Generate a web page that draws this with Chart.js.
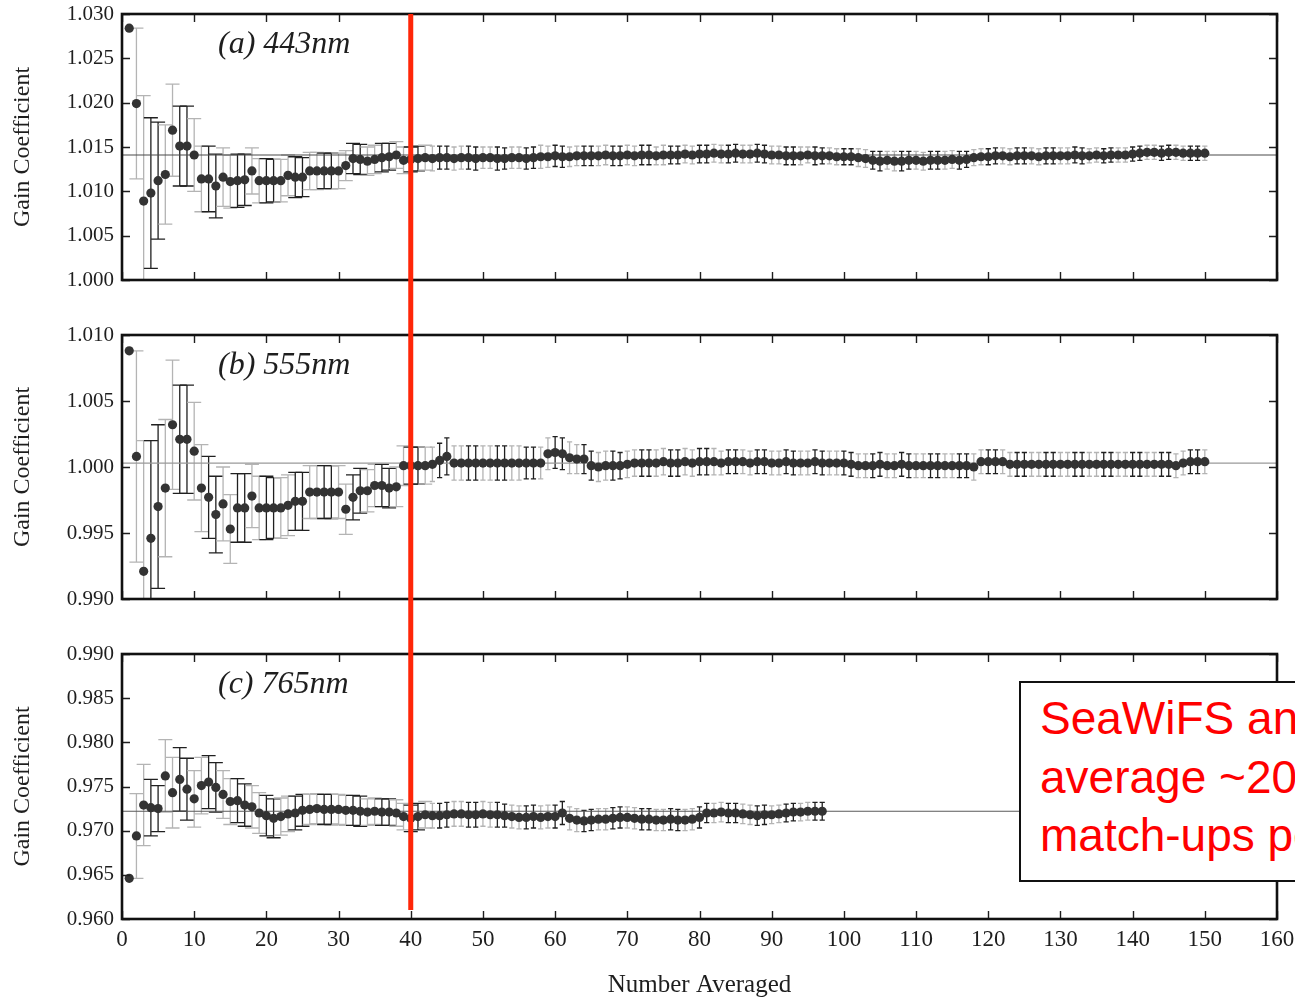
<!DOCTYPE html>
<html>
<head>
<meta charset="utf-8">
<script src="https://cdn.jsdelivr.net/npm/chart.js@4/dist/chart.umd.min.js"></script>
<style>
html, body { margin:0; padding:0; background:#fff; overflow:hidden; }
#wrap { position:relative; width:1295px; height:998px; overflow:hidden; background:#fff; }
#wrap canvas { position:absolute; left:0; }
#note { position:absolute; left:1019px; top:681px; width:420px; height:201px; box-sizing:border-box;
  border:2px solid #111; background:#fff; color:#ff0000; z-index:5;
  font-family:"Liberation Sans", Arial, sans-serif; font-size:46px; line-height:58.5px;
  padding:6px 0 0 19px; white-space:nowrap; }
</style>
</head>
<body>
<div id="wrap">
  <canvas id="cA" width="1295" height="300" style="top:0px;width:1295px;height:300px"></canvas>
  <canvas id="cB" width="1295" height="320" style="top:300px;width:1295px;height:320px"></canvas>
  <canvas id="cC" width="1295" height="378" style="top:620px;width:1295px;height:378px"></canvas>
  <div id="note">SeaWiFS and MODIS<br>average ~20<br>match-ups per year</div>
</div>
<script>
// ---------------- data ----------------
const xMin = 0, xMax = 160, xStep = 10;
const markerX = 40;

// (a) 443nm : gain coefficient vs number averaged (n = 1..150)
const aGain = [
1.0284,1.0199,1.0089,1.0098,1.0112,1.0119,1.0169,1.0151,1.0151,1.0141,
1.0114,1.0114,1.0106,1.0116,1.0111,1.0112,1.0113,1.0123,1.0112,1.0112,
1.0112,1.0112,1.0118,1.0116,1.0116,1.0123,1.0123,1.0123,1.0123,1.0123,
1.0129,1.0137,1.0136,1.0134,1.0136,1.0138,1.0139,1.0141,1.0135,1.0136,
1.0137,1.0138,1.0137,1.0138,1.0138,1.0137,1.0138,1.0138,1.0137,1.0138,
1.0138,1.0137,1.0137,1.0138,1.0138,1.0137,1.0138,1.0139,1.0139,1.0140,
1.0139,1.0139,1.0140,1.0140,1.0140,1.0140,1.0141,1.0140,1.0140,1.0141,
1.0140,1.0141,1.0141,1.0140,1.0141,1.0141,1.0141,1.0142,1.0141,1.0142,
1.0142,1.0143,1.0142,1.0142,1.0143,1.0142,1.0142,1.0143,1.0142,1.0141,
1.0141,1.0140,1.0140,1.0140,1.0141,1.0140,1.0140,1.0140,1.0139,1.0139,
1.0139,1.0138,1.0137,1.0135,1.0134,1.0135,1.0134,1.0134,1.0135,1.0135,
1.0134,1.0135,1.0135,1.0135,1.0136,1.0135,1.0136,1.0138,1.0139,1.0139,
1.0140,1.0140,1.0139,1.0140,1.0140,1.0140,1.0139,1.0140,1.0140,1.0140,
1.0140,1.0141,1.0140,1.0140,1.0141,1.0140,1.0141,1.0141,1.0141,1.0142,
1.0143,1.0144,1.0144,1.0143,1.0144,1.0144,1.0143,1.0143,1.0143,1.0143];
const aErr = [
0,0.0085,0.0119,0.0085,0.0066,0.0056,0.0052,0.0045,0.0045,0.0041,
0.0037,0.0037,0.0036,0.0033,0.0030,0.0030,0.0029,0.0026,0.0025,0.0025,
0.0024,0.0024,0.0023,0.0023,0.0022,0.0021,0.0021,0.0020,0.0020,0.0020,
0.0017,0.0017,0.0017,0.0016,0.0016,0.0016,0.0015,0.0015,0.0015,0.0014,
0.0014,0.0014,0.0014,0.0013,0.0013,0.0013,0.0013,0.0013,0.0013,0.0012,
0.0012,0.0013,0.0012,0.0012,0.0012,0.0012,0.0012,0.0013,0.0012,0.0012,
0.0012,0.0011,0.0011,0.0011,0.0011,0.0011,0.0011,0.0011,0.0011,0.0011,
0.0011,0.0011,0.0011,0.0010,0.0011,0.0010,0.0010,0.0010,0.0010,0.0010,
0.0010,0.0010,0.0010,0.0010,0.0010,0.0010,0.0010,0.0010,0.0010,0.0010,
0.0010,0.0010,0.0010,0.0010,0.0009,0.0010,0.0009,0.0009,0.0009,0.0009,
0.0009,0.0010,0.0010,0.0010,0.0011,0.0010,0.0011,0.0011,0.0010,0.0010,
0.0010,0.0010,0.0010,0.0010,0.0010,0.0010,0.0009,0.0009,0.0009,0.0009,
0.0009,0.0009,0.0009,0.0009,0.0009,0.0009,0.0009,0.0009,0.0009,0.0009,
0.0009,0.0009,0.0009,0.0008,0.0008,0.0008,0.0008,0.0008,0.0008,0.0008,
0.0008,0.0008,0.0008,0.0008,0.0008,0.0008,0.0008,0.0008,0.0008,0.0008];
const aRef = 1.0141;

// (b) 555nm
const bGain = [
1.0088,1.0008,0.9921,0.9946,0.9970,0.9984,1.0032,1.0021,1.0021,1.0012,
0.9984,0.9977,0.9964,0.9972,0.9953,0.9969,0.9969,0.9978,0.9969,0.9969,
0.9969,0.9969,0.9971,0.9974,0.9974,0.9981,0.9981,0.9981,0.9981,0.9981,
0.9968,0.9977,0.9982,0.9982,0.9986,0.9986,0.9984,0.9985,1.0001,1.0001,
1.0001,1.0001,1.0002,1.0005,1.0008,1.0003,1.0003,1.0003,1.0003,1.0003,
1.0003,1.0003,1.0003,1.0003,1.0003,1.0003,1.0003,1.0003,1.0010,1.0011,
1.0010,1.0007,1.0006,1.0006,1.0001,1.0000,1.0001,1.0001,1.0001,1.0002,
1.0003,1.0003,1.0003,1.0003,1.0004,1.0003,1.0003,1.0004,1.0003,1.0004,
1.0004,1.0004,1.0003,1.0004,1.0004,1.0004,1.0003,1.0004,1.0004,1.0003,
1.0003,1.0004,1.0003,1.0003,1.0003,1.0004,1.0003,1.0003,1.0003,1.0003,
1.0002,1.0001,1.0001,1.0001,1.0002,1.0001,1.0001,1.0002,1.0001,1.0001,
1.0001,1.0001,1.0001,1.0001,1.0001,1.0001,1.0001,1.0000,1.0004,1.0004,
1.0004,1.0004,1.0002,1.0002,1.0002,1.0002,1.0002,1.0002,1.0002,1.0002,
1.0002,1.0002,1.0002,1.0002,1.0002,1.0002,1.0002,1.0002,1.0002,1.0002,
1.0002,1.0002,1.0002,1.0002,1.0002,1.0001,1.0003,1.0004,1.0004,1.0004];
const bErr = [
0,0.0080,0.0099,0.0074,0.0062,0.0052,0.0049,0.0041,0.0041,0.0037,
0.0033,0.0031,0.0029,0.0028,0.0026,0.0026,0.0026,0.0024,0.0024,0.0024,
0.0023,0.0023,0.0023,0.0022,0.0022,0.0020,0.0020,0.0020,0.0020,0.0020,
0.0019,0.0017,0.0017,0.0016,0.0016,0.0016,0.0015,0.0015,0.0015,0.0014,
0.0014,0.0014,0.0013,0.0013,0.0014,0.0013,0.0013,0.0013,0.0013,0.0013,
0.0013,0.0013,0.0013,0.0013,0.0013,0.0012,0.0012,0.0012,0.0012,0.0012,
0.0012,0.0012,0.0011,0.0011,0.0011,0.0011,0.0011,0.0011,0.0010,0.0010,
0.0010,0.0010,0.0010,0.0010,0.0010,0.0010,0.0010,0.0010,0.0010,0.0010,
0.0010,0.0010,0.0009,0.0009,0.0009,0.0009,0.0009,0.0009,0.0009,0.0009,
0.0009,0.0009,0.0009,0.0009,0.0009,0.0009,0.0009,0.0009,0.0009,0.0009,
0.0009,0.0009,0.0009,0.0009,0.0009,0.0009,0.0009,0.0009,0.0009,0.0009,
0.0009,0.0009,0.0009,0.0009,0.0009,0.0009,0.0009,0.0010,0.0009,0.0009,
0.0009,0.0009,0.0009,0.0009,0.0009,0.0009,0.0009,0.0009,0.0009,0.0009,
0.0009,0.0009,0.0009,0.0009,0.0009,0.0009,0.0009,0.0009,0.0009,0.0009,
0.0009,0.0009,0.0009,0.0009,0.0009,0.0009,0.0009,0.0009,0.0009,0.0009];
const bRef = 1.0003;

// (c) 765nm (n = 1..97)
const cGain = [
0.9646,0.9694,0.9729,0.9726,0.9725,0.9762,0.9743,0.9758,0.9747,0.9736,
0.9751,0.9755,0.9749,0.9741,0.9733,0.9734,0.9729,0.9727,0.9720,0.9717,
0.9714,0.9716,0.9719,0.9720,0.9723,0.9724,0.9725,0.9724,0.9724,0.9724,
0.9723,0.9723,0.9722,0.9721,0.9722,0.9721,0.9721,0.9720,0.9716,0.9714,
0.9716,0.9718,0.9717,0.9717,0.9718,0.9719,0.9719,0.9718,0.9718,0.9719,
0.9718,0.9718,0.9717,0.9716,0.9715,0.9715,0.9716,0.9715,0.9716,0.9716,
0.9720,0.9714,0.9712,0.9711,0.9712,0.9713,0.9713,0.9714,0.9715,0.9715,
0.9714,0.9713,0.9713,0.9712,0.9712,0.9713,0.9712,0.9712,0.9713,0.9715,
0.9720,0.9720,0.9721,0.9720,0.9720,0.9719,0.9718,0.9717,0.9718,0.9718,
0.9719,0.9720,0.9721,0.9721,0.9722,0.9722,0.9722];
const cErr = [
0,0.0048,0.0046,0.0032,0.0026,0.0041,0.0040,0.0036,0.0035,0.0032,
0.0032,0.0030,0.0028,0.0027,0.0026,0.0025,0.0024,0.0024,0.0023,0.0023,
0.0022,0.0021,0.0020,0.0019,0.0018,0.0017,0.0017,0.0017,0.0017,0.0017,
0.0017,0.0017,0.0017,0.0015,0.0015,0.0015,0.0015,0.0015,0.0015,0.0015,
0.0015,0.0015,0.0014,0.0014,0.0014,0.0014,0.0014,0.0014,0.0014,0.0014,
0.0014,0.0014,0.0013,0.0013,0.0013,0.0013,0.0013,0.0013,0.0013,0.0013,
0.0013,0.0013,0.0013,0.0012,0.0012,0.0012,0.0012,0.0012,0.0012,0.0012,
0.0012,0.0012,0.0012,0.0012,0.0012,0.0012,0.0012,0.0012,0.0012,0.0012,
0.0011,0.0011,0.0011,0.0011,0.0011,0.0011,0.0011,0.0011,0.0011,0.0010,
0.0010,0.0010,0.0010,0.0010,0.0010,0.0010,0.0010];
const cRef = 0.9722;

const panelLabels = ['(a) 443nm', '(b) 555nm', '(c) 765nm'];
const yTitle = 'Gain Coefficient';
const xTitle = 'Number Averaged';

// ---------------- drawing ----------------
const SERIF = '"Liberation Serif", "Times New Roman", serif';
const INK = '#1e1e1e';

const panelPlugin = {
  id: 'panelPlugin',
  beforeDatasetsDraw(chart) {
    const o = chart.options.plugins.panelPlugin;
    const xs = chart.scales.x, ys = chart.scales.y, ca = chart.chartArea, ctx = chart.ctx;
    ctx.save();
    ctx.beginPath(); ctx.rect(ca.left, ca.top, ca.right - ca.left, ca.bottom - ca.top); ctx.clip();
    ctx.lineWidth = 1.3;
    o.gains.forEach((g, i) => {
      const e = o.errs[i];
      if (!e) return;
      const n = i + 1;
      const px = xs.getPixelForValue(n);
      const y1 = ys.getPixelForValue(g + e), y2 = ys.getPixelForValue(g - e);
      const hw = n <= 42 ? 7 : 2.6;
      ctx.strokeStyle = (Math.floor(n / 2) % 2 === 1) ? '#b4b4b4' : '#202020';
      ctx.beginPath();
      ctx.moveTo(px, y1); ctx.lineTo(px, y2);
      ctx.moveTo(px - hw, y1); ctx.lineTo(px + hw, y1);
      ctx.moveTo(px - hw, y2); ctx.lineTo(px + hw, y2);
      ctx.stroke();
    });
    ctx.restore();
  },
  afterDraw(chart) {
    const o = chart.options.plugins.panelPlugin;
    const xs = chart.scales.x, ys = chart.scales.y, ca = chart.chartArea, ctx = chart.ctx;
    ctx.save();
    // inward ticks
    ctx.strokeStyle = INK; ctx.lineWidth = 1.4;
    ctx.beginPath();
    xs.ticks.forEach(t => {
      const px = Math.round(xs.getPixelForValue(t.value)) + 0.5;
      ctx.moveTo(px, ca.bottom); ctx.lineTo(px, ca.bottom - 8);
      ctx.moveTo(px, ca.top); ctx.lineTo(px, ca.top + 8);
    });
    ys.ticks.forEach(t => {
      const py = Math.round(ys.getPixelForValue(t.value)) + 0.5;
      ctx.moveTo(ca.left, py); ctx.lineTo(ca.left + 8, py);
      ctx.moveTo(ca.right, py); ctx.lineTo(ca.right - 8, py);
    });
    ctx.stroke();
    // frame
    ctx.lineWidth = 2.6; ctx.strokeStyle = '#111';
    ctx.strokeRect(ca.left, ca.top, ca.right - ca.left, ca.bottom - ca.top);
    // panel label
    ctx.fillStyle = INK;
    ctx.font = 'italic 32px ' + SERIF;
    ctx.textBaseline = 'alphabetic'; ctx.textAlign = 'left';
    ctx.fillText(o.label, ca.left + 96, ca.top + 39);
    // red marker line at n = 40
    const rx = xs.getPixelForValue(markerX);
    const top = o.redTop === 'area' ? ca.top : 0;
    const bottom = o.redBottom === 'area' ? ca.bottom - 9 : chart.height;
    ctx.strokeStyle = 'rgb(255,38,8)'; ctx.lineWidth = 5;
    ctx.beginPath(); ctx.moveTo(rx, top); ctx.lineTo(rx, bottom); ctx.stroke();
    ctx.restore();
  }
};

function makePanel(id, gains, errs, ref, refColor, yMin, yMax, label, padTop, xH, showX, redTop, redBottom) {
  return new Chart(document.getElementById(id), {
    type: 'scatter',
    data: {
      datasets: [
        { data: gains.map((g, i) => ({ x: i + 1, y: g })), backgroundColor: '#333333',
          borderWidth: 0, pointRadius: 4.6, pointHoverRadius: 4.6, order: 1 },
        { type: 'line', data: [{ x: xMin, y: ref }, { x: xMax, y: ref }], borderColor: refColor,
          borderWidth: 1.2, pointRadius: 0, fill: false, order: 2 }
      ]
    },
    options: {
      responsive: false, animation: false, devicePixelRatio: 1,
      events: [],
      layout: { padding: { top: padTop, right: 18, left: 0, bottom: 0 } },
      plugins: {
        legend: { display: false }, tooltip: { enabled: false },
        panelPlugin: { gains, errs, label, redTop, redBottom }
      },
      scales: {
        x: {
          type: 'linear', min: xMin, max: xMax,
          ticks: { stepSize: xStep, display: showX, autoSkip: false, maxRotation: 0, padding: 7,
                   color: INK, font: { family: SERIF, size: 23 } },
          grid: { display: false, drawTicks: false }, border: { display: false },
          title: { display: showX, text: xTitle, color: INK, padding: { top: 0, bottom: 0 },
                   font: { family: SERIF, size: 25, lineHeight: 1 } },
          afterFit(s) { s.height = xH; s.paddingLeft = 0; s.paddingRight = 0; }
        },
        y: {
          min: yMin, max: yMax,
          ticks: { stepSize: 0.005, padding: 8, color: INK, font: { family: SERIF, size: 21 },
                   callback: v => v.toFixed(3) },
          grid: { display: false, drawTicks: false }, border: { display: false },
          title: { display: true, text: yTitle, color: INK, padding: { top: 11, bottom: 0 },
                   font: { family: SERIF, size: 24, lineHeight: 1 } },
          afterFit(s) { s.width = 122; s.paddingTop = 0; s.paddingBottom = 0; }
        }
      }
    },
    plugins: [panelPlugin]
  });
}

makePanel('cA', aGain, aErr, aRef, '#4a4a4a', 1.000, 1.030, panelLabels[0], 14, 20, false, 'area', 'canvas');
makePanel('cB', bGain, bErr, bRef, '#9a9a9a', 0.990, 1.010, panelLabels[1], 35, 21, false, 'canvas', 'canvas');
makePanel('cC', cGain, cErr, cRef, '#5a5a5a', 0.960, 0.990, panelLabels[2], 34, 79, true, 'canvas', 'area');
</script>
</body>
</html>
